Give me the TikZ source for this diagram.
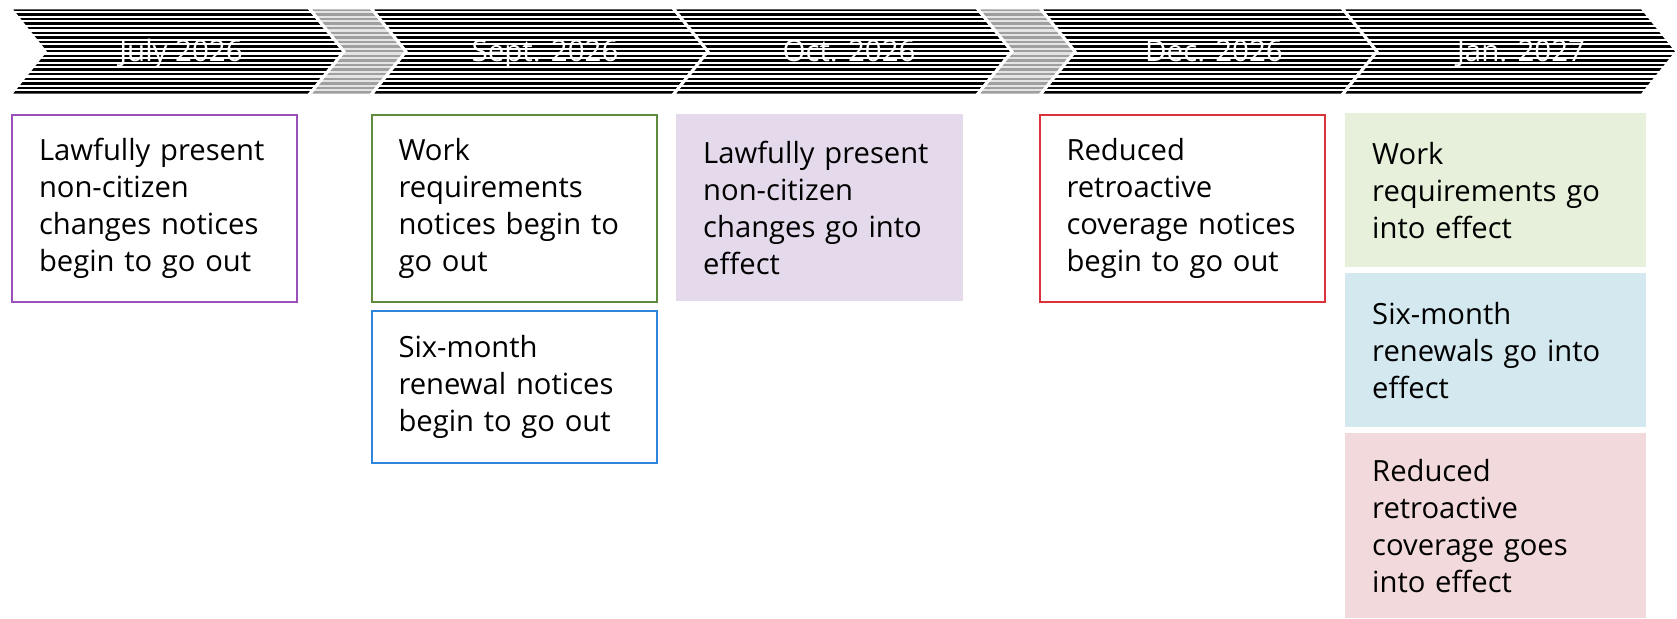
\documentclass[tikz,border=0pt]{standalone}
\usepackage{fontspec}
\setmainfont{Open Sans}
\definecolor{cpurple}{RGB}{155,80,185}
\definecolor{cgreen}{RGB}{95,140,60}
\definecolor{cblue}{RGB}{46,134,222}
\definecolor{cred}{RGB}{220,50,60}
\definecolor{fpurple}{RGB}{229,218,236}
\definecolor{fgreen}{RGB}{230,240,218}
\definecolor{fblue}{RGB}{211,232,239}
\definecolor{fpink}{RGB}{242,217,219}
\newcommand\mychev[4]{%
  \begin{scope}
    \clip (#1,8) -- (#2,8) -- ({#2+35},51.5) -- (#2,95) -- (#1,95) -- ({#1+35},51.5) -- cycle;
    \fill[#4] (#1,0) rectangle ({#2+40},100);
    \foreach \k in {0,...,18}
      \draw[#3, line width=2.5pt] (#1,{9.8+4.6*\k}) -- ({#2+40},{9.8+4.6*\k});
  \end{scope}
  \draw[white, line width=3pt, line join=miter]
    (#1,8) -- (#2,8) -- ({#2+35},51.5) -- (#2,95) -- (#1,95) -- ({#1+35},51.5) -- cycle;
}
\begin{document}
\begin{tikzpicture}[x=1pt,y=-1pt,
  box/.style={rectangle, anchor=north west, inner xsep=27pt, inner ysep=0pt,
    align=left, text=black, font=\fontsize{29.2pt}{37pt}\selectfont},
  outl/.style={draw=#1, line width=2pt},
  lbl/.style={text=white, anchor=base, inner sep=0pt, font=\fontsize{29.5pt}{30pt}\selectfont}
]
\useasboundingbox (0,0) rectangle (1677,618);

% chevrons
\mychev{10}{309}{black}{white}
\mychev{309}{371}{gray!75}{gray!20}
\mychev{371}{673}{black}{white}
\mychev{673}{977}{black}{white}
\mychev{977}{1040}{gray!75}{gray!20}
\mychev{1040}{1342}{black}{white}
\mychev{1342}{1642}{black}{white}

\node[lbl] (tjul) at (181,62) {July 2026};
\node[lbl] (tsep) at (545,62) {Sept. 2026};
\node[lbl] (toct) at (849,62) {Oct. 2026};
\node[lbl] (tdec) at (1214,62) {Dec. 2026};
\node[lbl] (tjan) at (1521,62) {Jan. 2027};

% boxes
\node[box, outl=cpurple, text width=231pt, minimum height=187pt] (b1) at (11,114)
  {Lawfully present\\non-citizen\\changes notices\\begin to go out};
\node[box, outl=cgreen, text width=231.5pt, minimum height=187pt] (b2) at (370.5,114)
  {Work\\requirements\\notices begin to\\go out};
\node[box, outl=cblue, text width=231.5pt, minimum height=152pt] (b3) at (370.5,310)
  {Six-month\\renewal notices\\begin to go out};
\node[box, fill=fpurple, text width=233pt, minimum height=187pt] (b4) at (676,114)
  {Lawfully present\\non-citizen\\changes go into\\effect};
\node[box, outl=cred, text width=231.5pt, minimum height=187pt] (b5) at (1038.5,114)
  {Reduced\\retroactive\\coverage notices\\begin to go out};
\node[box, fill=fgreen, text width=247pt, minimum height=154pt] (b6) at (1345,113)
  {Work\\requirements go\\into effect};
\node[box, fill=fblue, text width=247pt, minimum height=154pt] (b7) at (1345,273)
  {Six-month\\renewals go into\\effect};
\node[box, fill=fpink, text width=247pt, minimum height=185pt] (b8) at (1345,433)
  {Reduced\\retroactive\\coverage goes\\into effect};
\end{tikzpicture}
\end{document}
